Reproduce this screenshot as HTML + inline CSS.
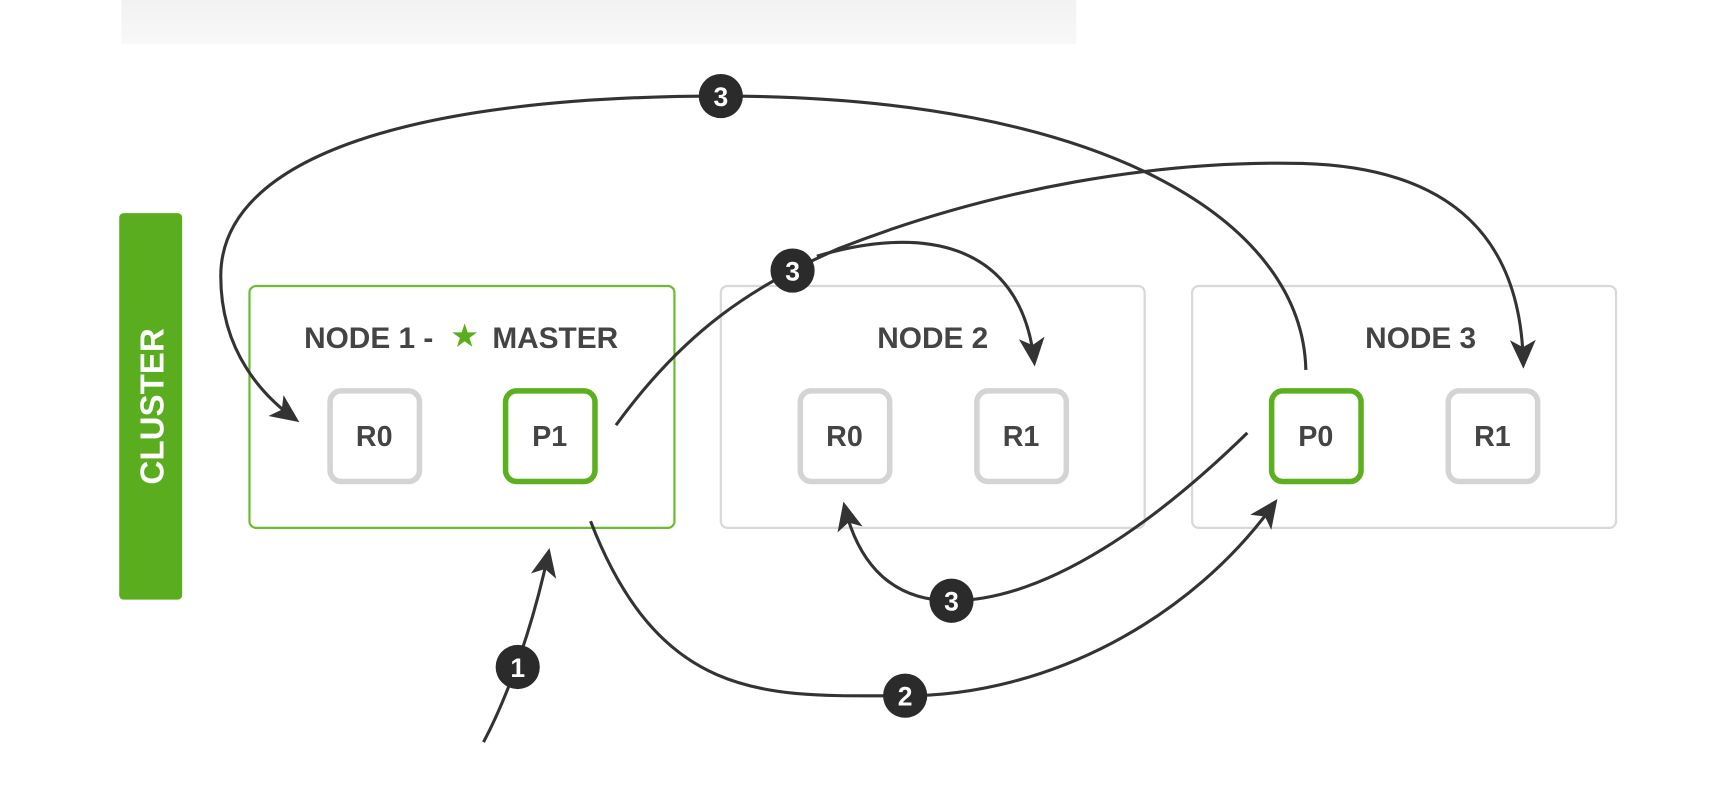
<!DOCTYPE html>
<html><head><meta charset="utf-8"><style>
html,body{margin:0;padding:0;background:#fff;width:1722px;height:794px;overflow:hidden}
svg{display:block}
text{font-family:"Liberation Sans",sans-serif;font-weight:bold}
</style></head><body>
<svg width="1722" height="794" viewBox="0 0 1560 719" preserveAspectRatio="none">
<defs>
<linearGradient id="g" x1="0" y1="0" x2="0" y2="1"><stop offset="0" stop-color="#f2f2f2"/><stop offset="1" stop-color="#f8f8f8"/></linearGradient>
<marker id="a" viewBox="0 0 20 20" refX="17" refY="10" markerWidth="26" markerHeight="26" markerUnits="userSpaceOnUse" orient="auto"><path d="M0,1 L20,10 L0,19 L5,10 Z" fill="#333"/></marker>
</defs>
<rect x="110" y="0" width="865" height="40" fill="url(#g)"/>
<rect x="108" y="193" width="57" height="350" rx="4" fill="#5aad1e"/>
<text x="0" y="0" transform="translate(148,368) rotate(-90)" text-anchor="middle" font-size="30" fill="#fff">CLUSTER</text>
<rect x="226" y="259" width="385" height="219" rx="6" fill="none" stroke="#6cbc30" stroke-width="2"/>
<rect x="653" y="259" width="384" height="219" rx="6" fill="none" stroke="#d8d8d8" stroke-width="2"/>
<rect x="1080" y="259" width="384" height="219" rx="6" fill="none" stroke="#d8d8d8" stroke-width="2"/>
<text x="334" y="315" text-anchor="middle" font-size="27" fill="#444">NODE 1 -</text>
<text x="421" y="313" text-anchor="middle" font-size="26" fill="#5aad1e">★</text>
<text x="503" y="315" text-anchor="middle" font-size="27" fill="#444">MASTER</text>
<text x="845" y="315" text-anchor="middle" font-size="27" fill="#444">NODE 2</text>
<text x="1287" y="315" text-anchor="middle" font-size="27" fill="#444">NODE 3</text>
<g font-size="26" fill="#444" text-anchor="middle">
<rect x="299" y="354" width="81" height="82" rx="10" fill="#fff" stroke="#d4d4d4" stroke-width="5"/><text x="339" y="404">R0</text>
<rect x="458" y="354" width="81" height="82" rx="10" fill="#fff" stroke="#5cb020" stroke-width="5"/><text x="498" y="404">P1</text>
<rect x="725" y="354" width="81" height="82" rx="10" fill="#fff" stroke="#d4d4d4" stroke-width="5"/><text x="765" y="404">R0</text>
<rect x="885" y="354" width="81" height="82" rx="10" fill="#fff" stroke="#d4d4d4" stroke-width="5"/><text x="925" y="404">R1</text>
<rect x="1152" y="354" width="81" height="82" rx="10" fill="#fff" stroke="#5cb020" stroke-width="5"/><text x="1192" y="404">P0</text>
<rect x="1312" y="354" width="81" height="82" rx="10" fill="#fff" stroke="#d4d4d4" stroke-width="5"/><text x="1352" y="404">R1</text>
</g>
<g fill="none" stroke="#333" stroke-width="2.8">
<path d="M438,672 C455,640 480,580 497,500" marker-end="url(#a)"/>
<path d="M535,472 C600,640 700,630 820,630 C950,630 1080,560 1155,455" marker-end="url(#a)"/>
<path d="M558,385 C620,300 680,260 760,225 C900,170 1050,145 1180,148 C1320,152 1378,220 1380,330" marker-end="url(#a)"/>
<path d="M740,232 C830,205 925,215 937,328" marker-end="url(#a)"/>
<path d="M1183,335 C1180,200 1000,87 653,87 C380,87 200,140 200,250 C200,320 240,360 268,380" marker-end="url(#a)"/>
<path d="M1130,392 C1050,470 950,544 862,544 C800,544 775,500 765,458" marker-end="url(#a)"/>
</g>
<g font-size="24" fill="#fff" text-anchor="middle">
<circle cx="653" cy="87" r="20" fill="#2b2b2b"/><text x="653" y="96">3</text>
<circle cx="718" cy="245" r="20" fill="#2b2b2b"/><text x="718" y="254">3</text>
<circle cx="862" cy="544" r="20" fill="#2b2b2b"/><text x="862" y="553">3</text>
<circle cx="820" cy="630" r="20" fill="#2b2b2b"/><text x="820" y="639">2</text>
<circle cx="469" cy="604" r="20" fill="#2b2b2b"/><text x="469" y="613">1</text>
</g>
</svg>
</body></html>
